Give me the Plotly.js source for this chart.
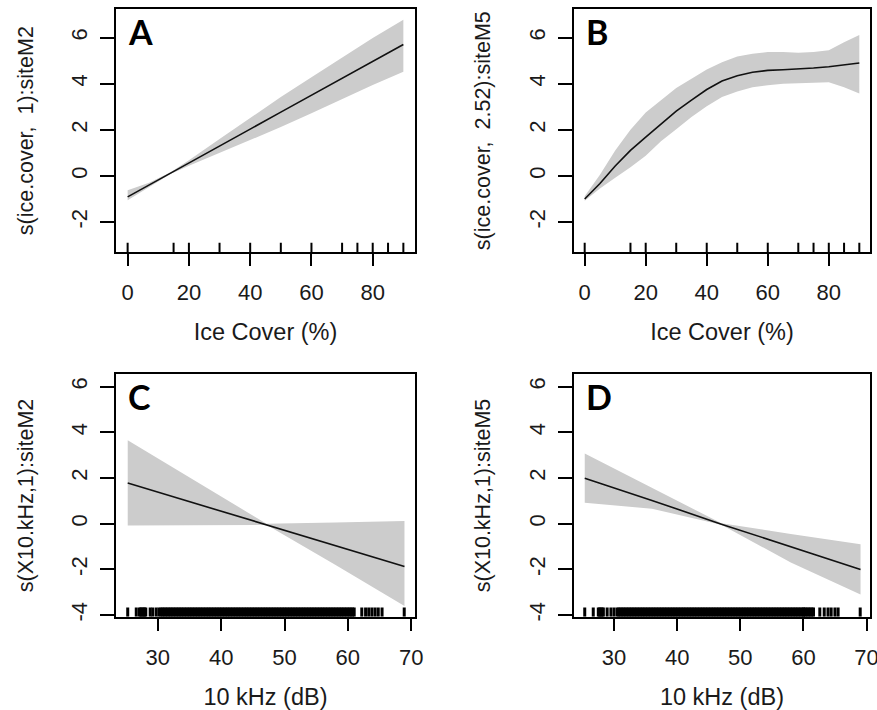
<!DOCTYPE html>
<html>
<head>
<meta charset="utf-8">
<script src="https://cdn.plot.ly/plotly-3.0.1.min.js"></script>
<style>html,body{margin:0;padding:0;background:#fff;}#chart{width:877px;height:710px;}</style>
</head>
<body>
<div id="chart"></div>
<script>
// ---------- Panel A: s(ice.cover, 1):siteM2 ----------
const iceXA = [0, 7, 14, 20, 30, 40, 50, 60, 70, 80, 90];
const fitA  = [-0.91, -0.40, 0.12, 0.56, 1.30, 2.03, 2.77, 3.50, 4.24, 4.97, 5.70];
const upA   = [-0.62, -0.30, 0.16, 0.68, 1.60, 2.51, 3.42, 4.28, 5.14, 5.99, 6.78];
const loA   = [-1.05, -0.50, 0.08, 0.44, 1.00, 1.55, 2.12, 2.72, 3.34, 3.95, 4.52];

// ---------- Panel B: s(ice.cover, 2.52):siteM5 ----------
const iceXB = [0, 5, 10, 15, 20, 25, 30, 35, 40, 45, 50, 55, 60, 65, 70, 75, 80, 85, 90];
const fitB  = [-1.00, -0.33, 0.43, 1.11, 1.68, 2.24, 2.81, 3.29, 3.75, 4.12, 4.35, 4.50, 4.58, 4.61, 4.64, 4.68, 4.74, 4.82, 4.90];
const upB   = [-0.88, 0.05, 1.10, 2.00, 2.75, 3.30, 3.82, 4.22, 4.62, 4.93, 5.18, 5.30, 5.38, 5.38, 5.35, 5.38, 5.45, 5.80, 6.12];
const loB   = [-1.08, -0.55, -0.08, 0.38, 0.88, 1.50, 2.03, 2.56, 3.02, 3.42, 3.66, 3.85, 3.94, 4.00, 4.02, 4.05, 4.06, 3.85, 3.58];

// rug of ice cover observations (both sites)
const rugIce = [0, 15, 20, 30, 40, 50, 60, 70, 75, 80, 85, 90];

// ---------- Panel C: s(X10.kHz,1):siteM2 ----------
const khzXC = [25.25, 36, 47.15, 58, 68.94];
const fitC  = [1.78, 0.88, -0.05, -0.95, -1.87];
const upC   = [3.65, 1.85, 0.00, 0.05, 0.12];
const loC   = [-0.08, -0.06, -0.05, -1.80, -3.60];

// ---------- Panel D: s(X10.kHz,1):siteM5 ----------
const khzXD = [25.35, 36, 47.0, 58, 69.05];
const fitD  = [1.99, 1.02, -0.02, -1.00, -2.00];
const upD   = [3.07, 1.56, 0.02, -0.45, -0.90];
const loD   = [0.92, 0.65, -0.04, -1.70, -3.10];

// rug of 10 kHz observations (dense core shared, sparse tails per site)
const rugKhzCore = [30.5,30.75,31,31.25,31.5,31.75,32,32.25,32.5,32.75,33,33.25,33.5,33.75,34,34.25,34.5,34.75,
  35,35.25,35.5,35.75,36,36.25,36.5,36.75,37,37.25,37.5,37.75,38,38.25,38.5,38.75,39,39.25,39.5,39.75,
  40,40.25,40.5,40.75,41,41.25,41.5,41.75,42,42.25,42.5,42.75,43,43.25,43.5,43.75,44,44.25,44.5,44.75,
  45,45.25,45.5,45.75,46,46.25,46.5,46.75,47,47.25,47.5,47.75,48,48.25,48.5,48.75,49,49.25,49.5,49.75,
  50,50.25,50.5,50.75,51,51.25,51.5,51.75,52,52.25,52.5,52.75,53,53.25,53.5,53.75,54,54.25,54.5,54.75,
  55,55.25,55.5,55.75,56,56.25,56.5,56.75,57,57.25,57.5,57.75,58,58.25,58.5,58.75,59,59.25,59.5,59.75,60];
const rugKhzC = [25.25, 26.6, 27.1, 27.3, 27.5, 27.7, 27.9, 28.1, 28.8, 29.2, 29.75, 30.2,
  60.25, 60.5, 60.75, 61.0, 62.2, 62.8, 63.3, 63.8, 64.3, 64.8, 65.4, 68.9];
const rugKhzD = [25.35, 26.7, 27.5, 27.7, 27.9, 28.1, 28.3, 28.9, 29.5, 30.0,
  60.1, 60.35, 60.6, 60.85, 61.1, 61.35, 61.6, 62.6, 63.3, 63.9, 64.4, 65.0, 65.5, 69.0];

// ---------- axis labels ----------
const NB = "\u00a0";
const yTitles = ["s(ice.cover,  1):siteM2", "s(ice.cover,  2.52):siteM5", "s(X10.kHz,1):siteM2", "s(X10.kHz,1):siteM5"];
const xTitles = ["Ice Cover (%)" + NB.repeat(4), "Ice Cover (%)", "10 kHz (dB)", "10 kHz (dB)"];
const panelLetters = ["A", "B", "C", "D"];
const iceTicks = [0, 20, 40, 60, 80];
const khzTicks = [30, 40, 50, 60, 70];
const yTicksTop = [-2, 0, 2, 4, 6];
const yTicksBottom = [-4, -2, 0, 2, 4, 6];

// ---------- layout geometry ----------
const W = 877, H = 710;
const colPx = [[116, 415], [573.7, 870.3]];
const rowPx = [[9.3, 252], [374.3, 616.7]];
const xRanges = [[-3.8, 93.8], [-3.6, 93.6], [23.4, 70.6], [23.6, 70.6]];
const yRanges = [[-3.3, 7.23], [-3.3, 7.23], [-4.07, 6.54], [-4.07, 6.54]];
const xTitleStandoff = [19, 19, 22, 22];
const RUG_FRAC = 0.038; // rug tick length as fraction of the y span (like R's rug ticksize)

const FONT = "Liberation Sans, Arial, Helvetica, sans-serif";
const BAND = "#cccccc";
const TXT = "#1a1a1a";

const panels = [
  {x: iceXA, fit: fitA, up: upA, lo: loA, rug: rugIce, rugW: 2, ticks: iceTicks, yt: yTicksTop},
  {x: iceXB, fit: fitB, up: upB, lo: loB, rug: rugIce, rugW: 2, ticks: iceTicks, yt: yTicksTop},
  {x: khzXC, fit: fitC, up: upC, lo: loC, rug: rugKhzC.concat(rugKhzCore), rugW: 3, ticks: khzTicks, yt: yTicksBottom},
  {x: khzXD, fit: fitD, up: upD, lo: loD, rug: rugKhzD.concat(rugKhzCore), rugW: 3, ticks: khzTicks, yt: yTicksBottom}
];

const traces = [];
const layout = {
  width: W, height: H,
  margin: {l: 0, r: 0, t: 0, b: 0},
  paper_bgcolor: "#ffffff", plot_bgcolor: "#ffffff",
  showlegend: false,
  font: {family: FONT, color: TXT},
  annotations: []
};

panels.forEach((p, i) => {
  const n = i + 1;
  const xa = n === 1 ? "x" : "x" + n;
  const ya = n === 1 ? "y" : "y" + n;
  const col = colPx[i % 2], row = rowPx[Math.floor(i / 2)];

  traces.push({x: p.x, y: p.lo, xaxis: xa, yaxis: ya, type: "scatter", mode: "lines",
    line: {width: 0, color: BAND}, hoverinfo: "skip"});
  traces.push({x: p.x, y: p.up, xaxis: xa, yaxis: ya, type: "scatter", mode: "lines",
    line: {width: 0, color: BAND}, fill: "tonexty", fillcolor: BAND, hoverinfo: "skip"});
  traces.push({x: p.x, y: p.fit, xaxis: xa, yaxis: ya, type: "scatter", mode: "lines",
    line: {width: 1.6, color: "#111111"}});

  // rug: one short vertical segment per observation, rising from the bottom of the plot region
  const y0 = yRanges[i][0];
  const y1 = y0 + RUG_FRAC * (yRanges[i][1] - yRanges[i][0]);
  const rx = [], ry = [];
  p.rug.forEach(v => { rx.push(v, v, null); ry.push(y0, y1, null); });
  traces.push({x: rx, y: ry, xaxis: xa, yaxis: ya, type: "scatter", mode: "lines",
    connectgaps: false, line: {width: p.rugW, color: "#000", simplify: false}, hoverinfo: "skip"});

  const xKey = n === 1 ? "xaxis" : "xaxis" + n;
  const yKey = n === 1 ? "yaxis" : "yaxis" + n;
  layout[xKey] = {
    domain: [col[0] / W, col[1] / W], anchor: ya, range: xRanges[i],
    tickmode: "array", tickvals: p.ticks, ticktext: p.ticks.map(String),
    ticks: "outside", ticklen: 12, tickwidth: 2, tickcolor: "#000",
    showline: true, mirror: true, linewidth: 2, linecolor: "#000",
    showgrid: false, zeroline: false, ticklabelstandoff: 8, ticklabeloverflow: "allow",
    tickfont: {family: FONT, size: 22, color: TXT},
    title: {text: xTitles[i], font: {family: FONT, size: 23.5, color: TXT}, standoff: xTitleStandoff[i]}
  };
  layout[yKey] = {
    domain: [1 - row[1] / H, 1 - row[0] / H], anchor: xa, range: yRanges[i],
    tickmode: "array", tickvals: p.yt, ticktext: p.yt.map(String), tickangle: -90,
    ticks: "outside", ticklen: 14, tickwidth: 2, tickcolor: "#000",
    showline: true, mirror: true, linewidth: 2, linecolor: "#000",
    showgrid: false, zeroline: false, ticklabelstandoff: 4, ticklabeloverflow: "allow",
    tickfont: {family: FONT, size: 22, color: TXT},
    title: {text: yTitles[i], font: {family: FONT, size: 21.5, color: TXT}, standoff: 28}
  };
  layout.annotations.push({
    text: panelLetters[i], xref: xa + " domain", yref: ya + " domain",
    x: 0.035, y: 1.0, xanchor: "left", yanchor: "top", showarrow: false,
    font: {family: "Lato, Open Sans, sans-serif", size: 34, color: "#000", weight: "bold"}
  });
});

Plotly.newPlot("chart", traces, layout, {staticPlot: true, displayModeBar: false});
</script>
</body>
</html>
